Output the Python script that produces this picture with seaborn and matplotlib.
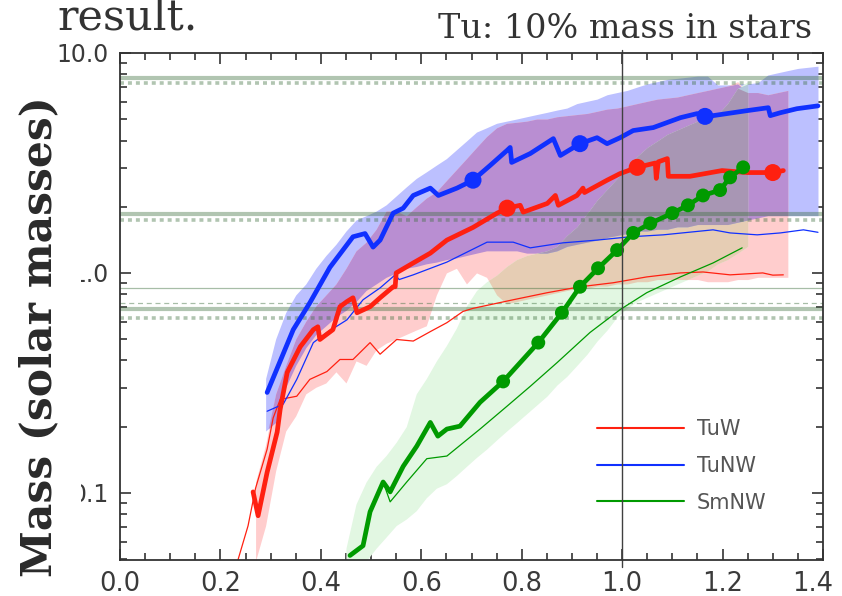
import numpy as np
import matplotlib
matplotlib.use("Agg")
import matplotlib.pyplot as plt
import matplotlib.transforms as mtransforms
import seaborn as sns
from matplotlib.lines import Line2D
from matplotlib.patches import Rectangle

sns.set_theme(style="ticks")
plt.rcParams['font.family'] = ['DejaVu Sans']

nan = np.nan

# ---------------- data ----------------
# thick (mean) tracks
tunw_x = [0.293, 0.345, 0.378, 0.418, 0.464, 0.488, 0.504, 0.518, 0.544, 0.564, 0.584, 0.618,
          0.634, 0.671, 0.703, 0.737, 0.771, 0.777, 0.780, 0.817, 0.863, 0.877, 0.916, 0.950,
          0.970, 0.996, 1.022, 1.062, 1.116, 1.149, 1.165, 1.181, 1.249, 1.291, 1.295, 1.315,
          1.348, 1.390]
tunw_y = [0.286, 0.552, 0.731, 1.06, 1.46, 1.51, 1.31, 1.41, 1.87, 1.97, 2.25, 2.43,
          2.25, 2.43, 2.64, 3.08, 3.61, 3.72, 3.18, 3.49, 4.08, 3.42, 3.87, 4.12,
          3.87, 4.12, 4.44, 4.58, 5.08, 5.30, 5.25, 5.19, 5.47, 5.64, 5.19, 5.35,
          5.58, 5.75]

tuw_x = [0.265, 0.275, 0.293, 0.313, 0.319, 0.333, 0.359, 0.385, 0.394, 0.398, 0.424, 0.438,
         0.452, 0.464, 0.472, 0.498, 0.518, 0.544, 0.548, 0.550, 0.584, 0.618, 0.651, 0.703,
         0.751, 0.771, 0.797, 0.803, 0.851, 0.867, 0.873, 0.910, 0.922, 0.925, 0.970, 0.996,
         1.030, 1.066, 1.068, 1.072, 1.090, 1.092, 1.135, 1.199, 1.249, 1.300, 1.321]
tuw_y = [0.101, 0.0787, 0.124, 0.189, 0.240, 0.353, 0.462, 0.552, 0.569, 0.498, 0.552, 0.702,
         0.741, 0.771, 0.659, 0.702, 0.771, 0.865, 0.865, 1.00, 1.11, 1.23, 1.41, 1.61,
         1.87, 1.97, 2.03, 1.89, 2.07, 2.25, 2.03, 2.25, 2.43, 2.32, 2.64, 2.83,
         3.02, 3.16, 2.69, 3.20, 3.31, 2.75, 2.75, 2.92, 2.86, 2.86, 2.92]

smnw_x = [0.458, 0.484, 0.498, 0.524, 0.538, 0.564, 0.591, 0.618, 0.633, 0.651, 0.677, 0.717,
          0.763, 0.833, 0.880, 0.916, 0.952, 0.990, 1.022, 1.056, 1.100, 1.131, 1.161, 1.195,
          1.215, 1.241]
smnw_y = [0.0519, 0.0575, 0.082, 0.112, 0.101, 0.132, 0.163, 0.209, 0.181, 0.195, 0.201, 0.258,
          0.321, 0.482, 0.659, 0.865, 1.05, 1.27, 1.52, 1.68, 1.87, 2.03, 2.25, 2.38,
          2.72, 3.02]

# markers on the thick tracks
tunw_mk_x = [0.703, 0.916, 1.165]
tunw_mk_y = [2.64, 3.87, 5.15]
tuw_mk_x = [0.771, 1.030, 1.300]
tuw_mk_y = [1.97, 3.02, 2.86]
smnw_mk_x = [0.763, 0.833, 0.880, 0.916, 0.952, 0.990, 1.022, 1.056, 1.100, 1.131, 1.161,
             1.195, 1.215, 1.241]
smnw_mk_y = [0.321, 0.482, 0.659, 0.865, 1.05, 1.27, 1.52, 1.68, 1.87, 2.03, 2.25,
             2.38, 2.72, 3.02]

# thin (median) tracks
tuw_thin_x = [0.235, 0.255, 0.270, 0.293, 0.305, 0.319, 0.352, 0.378, 0.412, 0.438, 0.464, 0.498,
              0.518, 0.551, 0.584, 0.618, 0.651, 0.683, 0.703, 0.783, 0.851, 0.916, 0.982, 1.049,
              1.116, 1.161, 1.215, 1.280, 1.300, 1.321]
tuw_thin_y = [0.0496, 0.0708, 0.105, 0.158, 0.219, 0.266, 0.275, 0.328, 0.356, 0.404, 0.404, 0.482,
              0.427, 0.498, 0.490, 0.541, 0.594, 0.668, 0.690, 0.755, 0.813, 0.865, 0.902, 0.959,
              1.00, 1.01, 0.98, 1.00, 0.977, 0.98]

tunw_thin_x = [0.293, 0.325, 0.352, 0.385, 0.412, 0.452, 0.484, 0.518, 0.548, 0.556, 0.584, 0.651,
               0.731, 0.783, 0.817, 0.882, 0.950, 1.016, 1.082, 1.181, 1.215, 1.269, 1.315, 1.361,
               1.390]
tunw_thin_y = [0.235, 0.253, 0.328, 0.482, 0.536, 0.612, 0.755, 0.855, 0.98, 0.933, 0.98, 1.12,
               1.38, 1.38, 1.30, 1.37, 1.41, 1.46, 1.49, 1.57, 1.52, 1.49, 1.52, 1.57,
               1.53]

smnw_thin_x = [0.524, 0.538, 0.571, 0.611, 0.651, 0.717, 0.771, 0.817, 0.871, 0.936, 0.996, 1.049,
               1.116, 1.181, 1.239]
smnw_thin_y = [0.112, 0.091, 0.112, 0.143, 0.147, 0.195, 0.248, 0.305, 0.392, 0.536, 0.681, 0.813,
               0.959, 1.11, 1.30]

# spread bands, all on one common x list
band_x = [0.25, 0.27, 0.29, 0.31, 0.33, 0.35, 0.37, 0.39, 0.41, 0.43, 0.45, 0.47, 0.49, 0.51,
          0.53, 0.55, 0.57, 0.59, 0.61, 0.63, 0.65, 0.67, 0.69, 0.71, 0.73, 0.75, 0.77, 0.79,
          0.81, 0.83, 0.85, 0.87, 0.89, 0.91, 0.93, 0.95, 0.97, 0.99, 1.01, 1.03, 1.05, 1.07,
          1.09, 1.11, 1.13, 1.15, 1.17, 1.19, 1.21, 1.23, 1.25, 1.27, 1.29, 1.31, 1.33, 1.35,
          1.37, 1.39]
tunw_hi = [nan, nan, 0.331, 0.501, 0.661, 0.794, 0.891, 1.05, 1.20, 1.35, 1.55, 1.74, 1.82, 1.91,
           2.04, 2.24, 2.46, 2.69, 2.88, 3.09, 3.31, 3.63, 3.98, 4.37, 4.57, 4.79, 4.90, 5.01,
           5.13, 5.25, 5.37, 5.50, 5.62, 5.89, 6.03, 6.17, 6.46, 6.61, 6.76, 7.00, 7.24, 7.41,
           7.59, 7.67, 7.76, 7.85, 7.85, 7.16, 7.16, 7.24, 7.24, 7.33, 7.94, 8.13, 8.32, 8.51,
           8.61, 8.71]
tunw_lo = [nan, nan, 0.191, 0.209, 0.302, 0.380, 0.457, 0.525, 0.575, 0.631, 0.676, 0.741, 0.832, 0.891,
           0.955, 1.00, 1.05, 1.07, 1.10, 1.12, 1.15, 1.17, 1.20, 1.23, 1.26, 1.26, 1.26, 1.26,
           1.23, 1.23, 1.23, 1.26, 1.32, 1.35, 1.38, 1.41, 1.45, 1.48, 1.51, 1.55, 1.55, 1.58,
           1.58, 1.62, 1.62, 1.66, 1.66, 1.66, 1.66, 1.70, 1.74, 1.78, 1.82, 1.82, 1.82, 1.82,
           1.82, 1.82]
tuw_hi = [nan, 0.112, 0.166, 0.282, 0.380, 0.501, 0.603, 0.708, 0.794, 0.891, 1.05, 1.26, 1.38, 1.58,
          1.91, 1.91, 1.82, 2.00, 2.19, 2.34, 2.63, 2.95, 3.31, 3.72, 4.17, 4.57, 4.79, 4.84,
          4.90, 5.01, 5.01, 5.13, 5.19, 5.25, 5.31, 5.43, 5.56, 5.62, 5.75, 5.89, 6.03, 6.17,
          6.24, 6.31, 6.46, 6.61, 6.76, 6.92, 7.08, 7.41, 6.61, 6.61, 6.46, 6.61, 6.76, nan,
          nan, nan]
tuw_lo = [nan, 0.049, 0.071, 0.126, 0.191, 0.224, 0.282, 0.302, 0.316, 0.355, 0.316, 0.398, 0.380, 0.447,
          0.479, 0.501, 0.525, 0.550, 0.575, 0.794, 1.00, 1.05, 0.891, 1.00, 0.955, 0.794, 0.724, 0.741,
          0.759, 0.776, 0.794, 0.813, 0.832, 0.851, 0.851, 0.871, 0.871, 0.891, 0.891, 0.912, 0.912, 0.933,
          0.933, 0.933, 0.933, 0.933, 0.912, 0.912, 0.912, 0.933, 0.933, 0.955, 0.955, 0.955, 0.955, nan,
          nan, nan]
smnw_hi = [nan, nan, nan, nan, nan, nan, nan, nan, nan, nan, 0.056, 0.089, 0.112, 0.132,
           0.148, 0.170, 0.200, 0.282, 0.331, 0.398, 0.468, 0.562, 0.708, 0.832, 0.912, 0.977, 1.07, 1.15,
           1.20, 1.23, 1.26, 1.32, 1.48, 1.62, 1.86, 2.14, 2.40, 2.69, 3.02, 3.39, 3.72, 3.98,
           4.27, 4.47, 4.68, 4.90, 5.01, 5.25, 5.89, 6.92, 7.41, nan, nan, nan, nan, nan,
           nan, nan]
smnw_lo = [nan, nan, nan, nan, nan, nan, nan, nan, nan, nan, 0.049, 0.049, 0.049, 0.056,
           0.063, 0.071, 0.076, 0.083, 0.095, 0.105, 0.110, 0.120, 0.132, 0.145, 0.158, 0.174, 0.191, 0.209,
           0.229, 0.251, 0.275, 0.309, 0.339, 0.380, 0.427, 0.490, 0.550, 0.631, 0.692, 0.741, 0.776, 0.813,
           0.851, 0.891, 0.933, 0.977, 1.02, 1.10, 1.15, 1.23, 1.32, nan, nan, nan, nan, nan,
           nan, nan]

# observational mass estimates (horizontal reference levels)
ref_solid_thick = [7.7, 1.85, 0.684]
ref_dotted = [7.3, 1.74, 0.625]
ref_thin_solid = [0.855]
ref_thin_dashed = [0.73]

series_names = ["TuW", "TuNW", "SmNW"]
x_ticks = [0.0, 0.2, 0.4, 0.6, 0.8, 1.0, 1.2, 1.4]
x_ticklabels = ["0.0", "0.2", "0.4", "0.6", "0.8", "1.0", "1.2", "1.4"]
y_ticks = [0.1, 1.0, 10.0]
y_ticklabels = ["0.1", "1.0", "10.0"]

# ---------------- styles ----------------
RED = "#ff2010"
BLUE = "#1030ff"
GREEN = "#009a00"
C_BLUE = "#bcc0ff"
C_PINK = "#ffcdcd"
C_GREEN = "#e2f7e2"
C_PURPLE = "#b98ed2"
C_TAN = "#e6cdb4"
C_BG = "#b4c8dc"
C_GRAY = "#a896b4"
REF = "#3c6e3c"

fig = plt.figure(figsize=(8.42, 5.96), dpi=100)
ax = fig.add_axes([120 / 842, 36 / 596, 703 / 842, 507 / 596])
ax.set_yscale("log")
ax.set_facecolor("white")

bx = np.array(band_x)
bl, bh = np.array(tunw_lo), np.array(tunw_hi)
rl, rh = np.array(tuw_lo), np.array(tuw_hi)
gl, gh = np.array(smnw_lo), np.array(smnw_hi)

def band(lo, hi, color, z):
    with np.errstate(invalid="ignore"):
        ok = hi > lo
    ax.fill_between(bx, lo, hi, where=ok, interpolate=True, color=color, lw=0, zorder=z)

band(bl, bh, C_BLUE, 1)
band(rl, rh, C_PINK, 1.1)
band(gl, gh, C_GREEN, 1.2)
band(np.maximum(bl, rl), np.minimum(bh, rh), C_PURPLE, 1.3)
band(np.maximum(gl, rl), np.minimum(gh, rh), C_TAN, 1.4)
band(np.maximum(gl, bl), np.minimum(gh, bh), C_BG, 1.5)
band(np.maximum(np.maximum(gl, bl), rl), np.minimum(np.minimum(gh, bh), rh), C_GRAY, 1.6)

# horizontal reference levels
for v in ref_solid_thick:
    ax.axhline(v, color=REF, alpha=0.4, lw=3.0, zorder=2)
for v in ref_dotted:
    ax.axhline(v, color=REF, alpha=0.4, lw=2.6, ls=(0, (1.1, 1.1)), zorder=2)
for v in ref_thin_solid:
    ax.axhline(v, color=REF, alpha=0.45, lw=0.9, zorder=2)
for v in ref_thin_dashed:
    ax.axhline(v, color=REF, alpha=0.45, lw=0.9, ls=(0, (4, 3)), zorder=2)

def line(x, y, color, lw, z):
    sns.lineplot(x=x, y=y, sort=False, estimator=None, color=color, linewidth=lw,
                 ax=ax, zorder=z, legend=False)

line(tuw_thin_x, tuw_thin_y, RED, 0.9, 3)
line(tunw_thin_x, tunw_thin_y, BLUE, 0.9, 3)
line(smnw_thin_x, smnw_thin_y, GREEN, 0.9, 3)
line(tuw_x, tuw_y, RED, 3.4, 4)
line(tunw_x, tunw_y, BLUE, 3.4, 4)
line(smnw_x, smnw_y, GREEN, 3.4, 4)

sns.scatterplot(x=tunw_mk_x, y=tunw_mk_y, color=BLUE, s=150, edgecolor="none", ax=ax, zorder=4.5)
sns.scatterplot(x=tuw_mk_x, y=tuw_mk_y, color=RED, s=150, edgecolor="none", ax=ax, zorder=4.5)
sns.scatterplot(x=smnw_mk_x, y=smnw_mk_y, color=GREEN, s=100, edgecolor="none", ax=ax, zorder=4.5)

ax.axvline(1.0, ymin=-0.014, ymax=1.006, color="#404040", lw=1.0, clip_on=False, zorder=6)

ax.set_xlim(0.0, 1.4)
ax.set_ylim(0.0495, 10.0)
ax.set_xticks(x_ticks)
ax.set_xticklabels(x_ticklabels)
ax.set_xticks(np.arange(0.05, 1.4, 0.05), minor=True)
ax.set_yticks(y_ticks)
ax.set_yticklabels(y_ticklabels)
ymin_ticks = [0.05, 0.06, 0.07, 0.08, 0.09, 0.2, 0.3, 0.4, 0.5, 0.6, 0.7, 0.8, 0.9,
              2, 3, 4, 5, 6, 7, 8, 9]
ax.set_yticks(ymin_ticks, minor=True)
ax.yaxis.set_minor_formatter(plt.NullFormatter())
ax.set_xlabel("")
ax.set_ylabel("")

ax.tick_params(which="both", direction="in", top=True, right=True, color="#222222", width=1.1)
ax.tick_params(which="major", length=8)
ax.tick_params(which="minor", length=5)
ax.tick_params(axis="x", which="major", labelsize=18.5, labelcolor="#3a3a3a", pad=8)
ax.tick_params(axis="y", which="major", labelsize=17, labelcolor="#3a3a3a", pad=8)
for s in ax.spines.values():
    s.set_color("#333333")
    s.set_linewidth(1.3)
    s.set_zorder(7)

# last x label kept inside the figure, nudged left as in the original
last = ax.get_xticklabels()[-1]
last.set_transform(last.get_transform() +
                   mtransforms.ScaledTranslation(-10 / 100, 0, fig.dpi_scale_trans))

handles = [Line2D([], [], color=c, lw=1.5) for c in (RED, BLUE, GREEN)]
ax.legend(handles, series_names, loc="center left", bbox_to_anchor=(0.6785, 0.1854),
          frameon=False, fontsize=15, handlelength=4.2, handletextpad=0.6,
          labelspacing=0.8, borderpad=0, borderaxespad=0, labelcolor="#555555")

# white panel behind the y-axis title (as in the slide)
fig.add_artist(Rectangle((0, 0), 81 / 842, (596 - 88) / 596, transform=fig.transFigure,
                         facecolor="white", edgecolor="none", zorder=2))

fig.text(57 / 842, 1 - 29 / 596, "result.", family="DejaVu Serif", size=31,
         color="#333333", ha="left", va="baseline")
fig.text(812 / 842, 1 - 38 / 596, "Tu: 10% mass in stars", family="DejaVu Serif", size=24,
         color="#333333", ha="right", va="baseline")
fig.text(39 / 842, 1 - 337 / 596, "Mass (solar masses)", family="DejaVu Serif",
         weight="bold", size=30.5, rotation=90, color="#2a2a2a", ha="center", va="center")

fig.savefig("out.png", dpi=100)
